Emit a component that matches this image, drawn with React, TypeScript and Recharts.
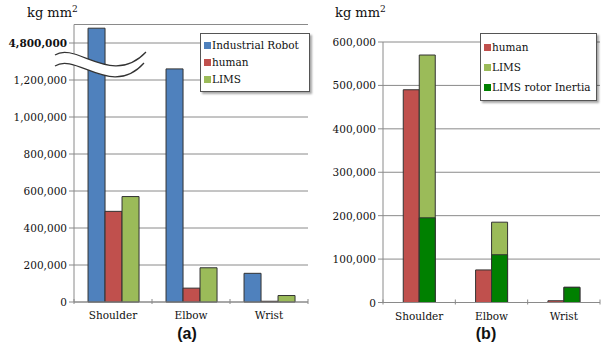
import React from 'react';
import { BarChart, Bar, XAxis, YAxis, CartesianGrid, Legend } from 'recharts';

const joints = ['Shoulder', 'Elbow', 'Wrist'];
const robot = [4880000, 1260000, 155000];
const human = [490000, 75000, 4000];
const lims = [570000, 185000, 35000];
const rotor = [195000, 110000, 35000];

const leftTicks = [0, 200000, 400000, 600000, 800000, 1000000, 1200000, 1400000];
const rightTicks = [0, 100000, 200000, 300000, 400000, 500000, 600000];

// axis break: the 1.4M gridline is labelled 4.8M, anything above continues from there
const breakAt = 1400000;
const breakLabel = 4800000;
const squash = (v: number) => (v > breakLabel ? breakAt + (v - breakLabel) : v);

const leftSeries = [
  { key: 'robot', name: 'Industrial Robot', color: '#4F81BD' },
  { key: 'human', name: 'human', color: '#C0504D' },
  { key: 'lims', name: 'LIMS', color: '#9BBB59' },
];
const rightSeries = [
  { key: 'human', name: 'human', color: '#C0504D' },
  { key: 'lims', name: 'LIMS', color: '#9BBB59' },
  { key: 'rotor', name: 'LIMS rotor Inertia', color: '#008000' },
];

const leftData = joints.map((name, i) => ({ name, robot: squash(robot[i]), human: human[i], lims: lims[i] }));
const rightData = joints.map((name, i) => ({ name, human: human[i], lims: lims[i], rotor: rotor[i] }));

const serif = '"DejaVu Serif", serif';
const fs = 10.5;
const axisColor = '#8a8a8a';
const barStroke = '#333';
const fmt = (v: number) => v.toLocaleString('en-US');

const LeftYTick = (props: any) => {
  const { x, y, payload } = props;
  const isBreak = payload.value === breakAt;
  return (
    <text x={x} y={y} dy={4} textAnchor="end" fontFamily={serif} fontSize={fs} fontWeight={isBreak ? 'bold' : 'normal'} fill="#111">
      {isBreak ? fmt(breakLabel) : fmt(payload.value)}
    </text>
  );
};

const RightYTick = (props: any) => {
  const { x, y, payload } = props;
  return (
    <text x={x} y={y} dy={4} textAnchor="end" fontFamily={serif} fontSize={fs} fill="#111">
      {fmt(payload.value)}
    </text>
  );
};

// category label plus small marks on the band edges
const XTick = (props: any) => {
  const { x, y, payload, index, plotW } = props;
  const off = plotW / joints.length / 2;
  return (
    <g>
      <line x1={x - off} x2={x - off} y1={y - 3} y2={y + 2} stroke={axisColor} />
      {index === joints.length - 1 && <line x1={x + off} x2={x + off} y1={y - 3} y2={y + 2} stroke={axisColor} />}
      <text x={x} y={y + 17} textAnchor="middle" fontFamily={serif} fontSize={fs} fill="#111">
        {payload.value}
      </text>
    </g>
  );
};

const legendBox = (items: typeof leftSeries, lineH: number) => () => (
  <div
    style={{
      background: '#fff',
      border: '1px solid #555',
      boxShadow: '2px 2px 2px rgba(0,0,0,0.35)',
      padding: 3,
      fontSize: fs,
      color: '#111',
    }}
  >
    {items.map((s) => (
      <div key={s.key} style={{ height: lineH, lineHeight: lineH + 'px', whiteSpace: 'nowrap', display: 'flex', alignItems: 'center' }}>
        <span style={{ display: 'inline-block', width: 7, height: 7, background: s.color, marginRight: 1 }} />
        {s.name}
      </div>
    ))}
  </div>
);

const Unit = ({ left }: { left: number }) => (
  <div style={{ position: 'absolute', left, top: 4, fontSize: 13, color: '#111' }}>
    kg mm<sup style={{ fontSize: 9 }}>2</sup>
  </div>
);

const Caption = ({ left, text }: { left: number; text: string }) => (
  <div style={{ position: 'absolute', left, top: 325, width: 40, textAlign: 'center', fontFamily: '"Liberation Sans", Arial, sans-serif', fontWeight: 'bold', fontSize: 16, color: '#111' }}>
    {text}
  </div>
);

export default function App() {
  return (
    <div style={{ position: 'absolute', left: 0, top: 0, width: 603, height: 350, background: '#fff', overflow: 'hidden', fontFamily: serif }}>
      <div style={{ position: 'absolute', left: 0, top: 0 }}>
        <BarChart width={310} height={350} data={leftData} margin={{ top: 24.5, right: 2, bottom: 18, left: 0 }} barCategoryGap="18%" barGap={0}>
          <CartesianGrid vertical={false} stroke={axisColor} />
          <XAxis dataKey="name" height={30} stroke={axisColor} tickLine={false} tickSize={0} tickMargin={0} tick={<XTick plotW={234} />} interval={0} />
          <YAxis width={74} domain={[0, 1500000]} ticks={leftTicks} stroke={axisColor} tickSize={5} tickMargin={2} tick={<LeftYTick />} interval={0} />
          <Legend layout="horizontal" verticalAlign="middle" align="center" wrapperStyle={{ left: 200, top: 33, width: 110 }} content={legendBox(leftSeries, 17)} />
          {leftSeries.map((s) => (
            <Bar key={s.key} dataKey={s.key} name={s.name} fill={s.color} stroke={barStroke} isAnimationActive={false} />
          ))}
        </BarChart>
        <svg width={310} height={350} style={{ position: 'absolute', left: 0, top: 0, pointerEvents: 'none' }}>
          <path d="M55,55 C76,41 112,88 146,52 L144,63 C112,99 76,52 55,66 Z" fill="#fff" />
          <path d="M55,55 C76,41 112,88 146,52" fill="none" stroke="#333" strokeWidth={1.2} />
          <path d="M55,66 C76,52 112,99 144,63" fill="none" stroke="#333" strokeWidth={1.2} />
        </svg>
        <Unit left={27} />
        <Caption left={167} text="(a)" />
      </div>
      <div style={{ position: 'absolute', left: 310, top: 0 }}>
        <BarChart width={293} height={350} data={rightData} margin={{ top: 42, right: 3, bottom: 17.5, left: 0 }} barCategoryGap="28%" barGap={0}>
          <CartesianGrid vertical={false} stroke={axisColor} />
          <XAxis dataKey="name" height={30} stroke={axisColor} tickLine={false} tickSize={0} tickMargin={0} tick={<XTick plotW={217} />} interval={0} />
          <XAxis xAxisId="over" dataKey="name" hide />
          <YAxis width={73} domain={[0, 600000]} ticks={rightTicks} stroke={axisColor} tickSize={5} tickMargin={2} tick={<RightYTick />} interval={0} />
          <Legend layout="horizontal" verticalAlign="middle" align="center" wrapperStyle={{ left: 170, top: 33, width: 117 }} content={legendBox(rightSeries, 20)} />
          <Bar dataKey="human" fill="#C0504D" stroke={barStroke} isAnimationActive={false} />
          <Bar dataKey="lims" fill="#9BBB59" stroke={barStroke} isAnimationActive={false} />
          <Bar xAxisId="over" dataKey="human" fill="none" stroke="none" legendType="none" isAnimationActive={false} />
          <Bar xAxisId="over" dataKey="rotor" fill="#008000" stroke={barStroke} isAnimationActive={false} />
        </BarChart>
        <Unit left={25} />
        <Caption left={156} text="(b)" />
      </div>
    </div>
  );
}
